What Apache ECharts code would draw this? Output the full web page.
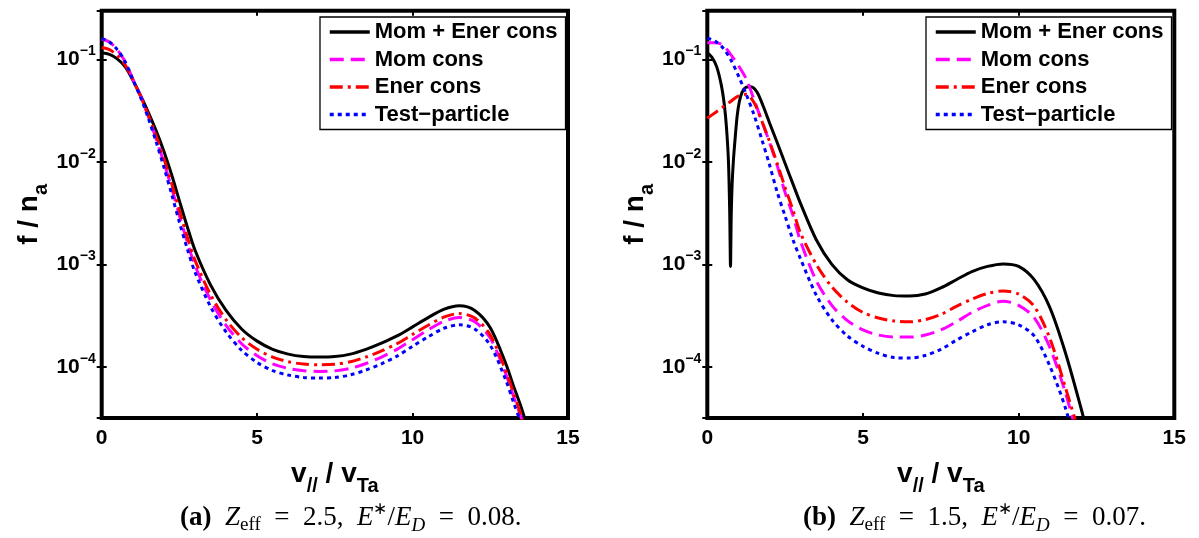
<!DOCTYPE html>
<html><head><meta charset="utf-8">
<script src="https://cdn.jsdelivr.net/npm/echarts@6/dist/echarts.min.js"></script>
<style>html,body{margin:0;padding:0;background:#fff}#c{width:1199px;height:538px}</style>
</head><body><div id="c"></div>
<script>
// ---------- DATA ----------
const seriesNames = ['Mom + Ener cons', 'Mom cons', 'Ener cons', 'Test\u2212particle'];
const xTicks = [0, 5, 10, 15];

// Panel (a): Z_eff = 2.5, E*/E_D = 0.08
const xA = [0,0.25,0.5,0.75,1,1.25,1.5,1.75,2,2.25,2.5,2.75,3,3.5,4,4.5,5,5.5,6,6.5,7,7.5,8,8.5,9,9.5,10,10.5,11,11.5,12,12.5,13,13.25,13.5,13.75];
const aMomEner = [0.1164,0.1122,0.1012,0.0851,0.0631,0.0447,0.0305,0.0202,0.0127,0.0075,0.00417,0.00234,0.00138,6.31e-4,3.55e-4,2.34e-4,1.78e-4,1.48e-4,1.33e-4,1.26e-4,1.245e-4,1.26e-4,1.33e-4,1.48e-4,1.70e-4,2.0e-4,2.45e-4,3.02e-4,3.63e-4,3.94e-4,3.55e-4,2.40e-4,1.07e-4,6.46e-5,3.98e-5,2.24e-5];
const aMom = [0.1585,0.148,0.1245,0.0955,0.0646,0.0437,0.0279,0.0168,0.00989,0.00556,0.00299,0.00166,9.77e-4,4.49e-4,2.54e-4,1.68e-4,1.28e-4,1.067e-4,9.64e-5,9.16e-5,9.0e-5,9.12e-5,9.66e-5,1.076e-4,1.245e-4,1.48e-4,1.84e-4,2.29e-4,2.77e-4,3.02e-4,2.75e-4,1.905e-4,8.5e-5,5.13e-5,3.16e-5,1.78e-5];
const aEner = [0.1306,0.1245,0.1096,0.0891,0.0631,0.0437,0.0285,0.018,0.0108,0.00617,0.00335,0.00186,0.0011,5.07e-4,2.88e-4,1.93e-4,1.48e-4,1.245e-4,1.12e-4,1.064e-4,1.047e-4,1.06e-4,1.12e-4,1.245e-4,1.43e-4,1.68e-4,2.07e-4,2.54e-4,3.05e-4,3.31e-4,2.99e-4,2.04e-4,9.12e-5,5.5e-5,3.31e-5,1.86e-5];
const aTest = [0.1607,0.148,0.1245,0.0955,0.0638,0.0427,0.0266,0.0157,0.00891,0.00484,0.00257,0.00143,8.41e-4,3.87e-4,2.19e-4,1.45e-4,1.1e-4,9.18e-5,8.3e-5,7.87e-5,7.76e-5,7.85e-5,8.34e-5,9.29e-5,1.07e-4,1.27e-4,1.585e-4,1.96e-4,2.37e-4,2.57e-4,2.34e-4,1.62e-4,7.41e-5,4.47e-5,2.75e-5,1.55e-5];

// Panel (b): Z_eff = 1.5, E*/E_D = 0.07
const xB = [0,0.25,0.5,0.75,1,1.25,1.5,1.75,2,2.25,2.5,2.75,3,3.5,4,4.5,5,5.5,6,6.5,7,7.5,8,8.5,9,9.5,10,10.5,11,11.5,12];
const xBMomEner = [0,0.15,0.3,0.45,0.55,0.62,0.68,0.72,0.745,0.77,0.8,0.84,0.9,0.96,1.03,1.12,1.25,1.4,1.6,1.8,2,2.25,2.5,2.75,3,3.5,4,4.5,5,5.5,6,6.5,7,7.5,8,8.5,9,9.5,10,10.5,11,11.5,12,12.25];
const bMomEner = [0.1164,0.1047,0.0851,0.0562,0.0355,0.0209,0.01,0.00316,0.000955,0.00316,0.00631,0.0105,0.0178,0.0282,0.0389,0.0479,0.0537,0.0543,0.0479,0.0347,0.024,0.0153,0.00966,0.0061,0.00389,0.00174,0.001,7.08e-4,5.89e-4,5.25e-4,4.95e-4,4.9e-4,5.13e-4,5.89e-4,7.08e-4,8.51e-4,9.55e-4,1.01e-3,9.55e-4,7.08e-4,3.8e-4,1.38e-4,3.98e-5,2.0e-5];
const bMom = [0.146,0.146,0.138,0.112,0.0871,0.0646,0.0407,0.0251,0.0155,0.00912,0.00501,0.00302,0.00166,6.92e-4,3.98e-4,2.82e-4,2.29e-4,2.04e-4,1.95e-4,1.95e-4,2.04e-4,2.29e-4,2.75e-4,3.39e-4,3.98e-4,4.37e-4,3.98e-4,3.02e-4,1.55e-4,5.62e-5,1.58e-5];
const bEner = [0.0267,0.0302,0.0343,0.0389,0.0442,0.0457,0.038,0.0251,0.0158,0.00955,0.00562,0.00339,0.002,0.001,6.03e-4,4.27e-4,3.39e-4,2.99e-4,2.8e-4,2.75e-4,2.88e-4,3.24e-4,3.89e-4,4.57e-4,5.19e-4,5.5e-4,5.13e-4,3.89e-4,1.905e-4,6.31e-5,2.0e-5];
const bTest = [0.162,0.151,0.130,0.1,0.0692,0.0457,0.0288,0.0166,0.00933,0.00501,0.00295,0.00174,0.00112,5.01e-4,2.88e-4,2.0e-4,1.585e-4,1.35e-4,1.23e-4,1.216e-4,1.29e-4,1.48e-4,1.82e-4,2.19e-4,2.57e-4,2.75e-4,2.57e-4,2.0e-4,1.02e-4,3.98e-5,1.12e-5];

// axis ranges
const xMin = 0, xMax = 15, xInterval = 5;
const yMin = Math.pow(10, -4.5), yMax = Math.pow(10, -0.524);

// ---------- STYLES ----------
const SANS = 'Liberation Sans, Arial, Helvetica, sans-serif';
const SERIF = 'Liberation Serif, Times New Roman, serif';
const styles = [
  {color: '#000000', width: 3, type: 'solid'},
  {color: '#ff00ff', width: 3, type: [14, 7]},
  {color: '#ff0000', width: 3, type: [13, 5, 3, 5]},
  {color: '#0000ff', width: 3, type: [4, 4]}
];

function logFmt(v) {
  const l = Math.log10(v), e = Math.round(l);
  if (Math.abs(l - e) > 1e-6) return '';
  return '{b|10}{s|' + (e < 0 ? '\u2212' : '') + Math.abs(e) + '}';
}
const tickRich = {
  b: {fontSize: 21, fontWeight: 'bold', fontFamily: SANS, color: '#000', lineHeight: 30, verticalAlign: 'middle'},
  s: {fontSize: 14, fontWeight: 'bold', fontFamily: SANS, color: '#000', lineHeight: 14, verticalAlign: 'top'}
};
const nameRich = {
  m: {fontSize: 28, fontWeight: 'bold', fontFamily: SANS, color: '#000', lineHeight: 44, verticalAlign: 'middle'},
  sub: {fontSize: 20, fontWeight: 'bold', fontFamily: SANS, color: '#000', lineHeight: 20, verticalAlign: 'bottom'}
};
const tickStyle = {show: true, inside: true, length: 5, lineStyle: {color: '#000', width: 2}};

const grids = [
  {left: 101.7, top: 10.7, width: 466.3, height: 407.3},
  {left: 707.3, top: 10.7, width: 467, height: 407.3}
].map(g => Object.assign(g, {show: true, borderWidth: 4, borderColor: '#000', backgroundColor: 'transparent', containLabel: false, outerBoundsMode: 'none'}));

const xAxes = [], yAxes = [];
[0, 1].forEach(gi => {
  xAxes.push({
    type: 'value', gridIndex: gi, position: 'bottom', min: xMin, max: xMax, interval: xInterval,
    axisLine: {show: false}, axisTick: tickStyle, splitLine: {show: false},
    axisLabel: {show: true, margin: 10, fontSize: 21, fontWeight: 'bold', fontFamily: SANS, color: '#000',
      formatter: v => xTicks.indexOf(v) >= 0 ? String(v) : ''},
    name: '{m|v}{sub|//}{m| / v}{sub|Ta}', nameLocation: 'middle', nameGap: 34,
    nameTextStyle: {rich: nameRich}
  });
  xAxes.push({
    type: 'value', gridIndex: gi, position: 'top', min: xMin, max: xMax, interval: xInterval,
    axisLine: {show: false}, axisTick: tickStyle, splitLine: {show: false}, axisLabel: {show: false}
  });
  yAxes.push({
    type: 'log', logBase: 10, gridIndex: gi, position: 'left', min: yMin, max: yMax,
    axisLine: {show: false}, axisTick: tickStyle, minorTick: {show: false}, splitLine: {show: false},
    axisLabel: {show: true, margin: 6, formatter: logFmt, rich: tickRich},
    name: '{m|f / n}{sub|a}', nameLocation: 'middle', nameRotate: 90, nameGap: 50,
    nameTextStyle: {rich: nameRich}
  });
  yAxes.push({
    type: 'log', logBase: 10, gridIndex: gi, position: 'right', min: yMin, max: yMax,
    axisLine: {show: false}, axisTick: tickStyle, minorTick: {show: false}, splitLine: {show: false},
    axisLabel: {show: false}
  });
});

function mk(name, xs, ys, gi, si) {
  return {
    type: 'line', name: name, xAxisIndex: gi * 2, yAxisIndex: gi * 2,
    data: xs.map((x, i) => [x, ys[i]]),
    symbol: 'none', showSymbol: false, smooth: 0.3, clip: true,
    lineStyle: styles[si], itemStyle: {color: styles[si].color},
    z: 2 + si, animation: false
  };
}
const series = [
  mk(seriesNames[0], xA, aMomEner, 0, 0),
  mk(seriesNames[1], xA, aMom, 0, 1),
  mk(seriesNames[2], xA, aEner, 0, 2),
  mk(seriesNames[3], xA, aTest, 0, 3),
  mk(seriesNames[0], xBMomEner, bMomEner, 1, 0),
  mk(seriesNames[1], xB, bMom, 1, 1),
  mk(seriesNames[2], xB, bEner, 1, 2),
  mk(seriesNames[3], xB, bTest, 1, 3)
];

function mkLegend(left) {
  return {
    data: seriesNames, left: left, top: 17, orient: 'vertical',
    itemWidth: 40, itemHeight: 14, itemGap: 5.5,
    padding: [4, 8, 4, 8], backgroundColor: '#fff', borderColor: '#000', borderWidth: 1.3, borderRadius: 0,
    textStyle: {fontSize: 22, fontWeight: 'bold', fontFamily: SANS, color: '#000', lineHeight: 22},
    lineStyle: {width: 3.5},
    itemStyle: {opacity: 0}, selectedMode: false, inactiveColor: '#000'
  };
}

const capBase = {fontFamily: SERIF, color: '#000', fontWeight: 'normal'};
const capRich = {
  p: Object.assign({}, capBase, {fontSize: 27, fontWeight: 'bold', lineHeight: 34, verticalAlign: 'middle'}),
  n: Object.assign({}, capBase, {fontSize: 27, lineHeight: 34, verticalAlign: 'middle'}),
  i: Object.assign({}, capBase, {fontSize: 27, fontStyle: 'italic', lineHeight: 34, verticalAlign: 'middle'}),
  sb: Object.assign({}, capBase, {fontSize: 19, lineHeight: 19, verticalAlign: 'bottom'}),
  sbi: Object.assign({}, capBase, {fontSize: 19, fontStyle: 'italic', lineHeight: 19, verticalAlign: 'bottom'}),
  sp: Object.assign({}, capBase, {fontSize: 17, lineHeight: 17, verticalAlign: 'top'})
};
function cap(letter, z, e, left) {
  return {
    left: left, top: 501, padding: 0,
    text: '{p|(' + letter + ')}{n|  }{i|Z}{sb|eff}{n|  =  ' + z + ',  }{i|E}{sp|\u2217}{n|/}{i|E}{sbi|D}{n|  =  ' + e + '.}',
    textStyle: {fontWeight: 'normal', fontFamily: SERIF, fontSize: 27, color: '#000', rich: capRich}
  };
}

const chart = echarts.init(document.getElementById('c'), null, {renderer: 'canvas'});
chart.setOption({
  backgroundColor: '#fff',
  animation: false,
  title: [cap('a', '2.5', '0.08', 180), cap('b', '1.5', '0.07', 803)],
  grid: grids,
  xAxis: xAxes,
  yAxis: yAxes,
  legend: [mkLegend(320), mkLegend(926)],
  series: series
});
</script>
</body></html>
